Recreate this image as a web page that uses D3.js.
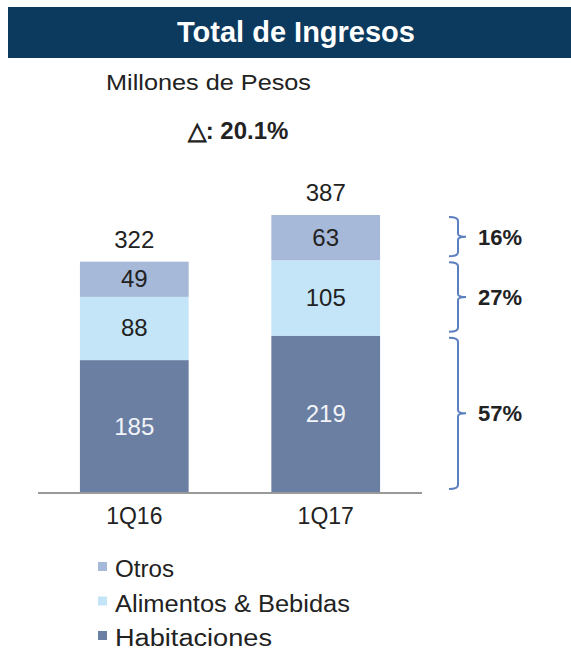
<!DOCTYPE html>
<html>
<head>
<meta charset="utf-8">
<script src="https://cdn.jsdelivr.net/npm/d3@7"></script>
<style>
  body { margin: 0; background: #fff; }
  svg { font-family: Arial, "Liberation Sans", sans-serif; }
</style>
</head>
<body>
<div class="chart"></div>
<script>
// data
const periods = ["1Q16", "1Q17"];
const seriesNames = ["Habitaciones", "Alimentos & Bebidas", "Otros"];
const habitaciones = [185, 219];
const alimentos = [88, 105];
const otros = [49, 63];
const totals = [322, 387];
const shares = ["57%", "27%", "16%"]; // share of 1Q17
const colors = ["#6b7fa3", "#c4e5f8", "#a6b9d8"];

const width = 571, height = 650;
const svg = d3.select(".chart").append("svg")
  .attr("width", width).attr("height", height);

// header
svg.append("rect")
  .attr("x", 8).attr("y", 7).attr("width", 563).attr("height", 51)
  .attr("fill", "#0b3a5e");
svg.append("text")
  .attr("x", 296).attr("y", 42)
  .attr("text-anchor", "middle")
  .attr("fill", "#fff")
  .attr("font-size", 29).attr("font-weight", "bold")
  .text("Total de Ingresos");

svg.append("text")
  .attr("x", 106).attr("y", 90)
  .attr("font-size", 22).attr("fill", "#222")
  .attr("textLength", 205).attr("lengthAdjust", "spacingAndGlyphs")
  .text("Millones de Pesos");
svg.append("text")
  .attr("x", 238).attr("y", 139)
  .attr("text-anchor", "middle")
  .attr("font-size", 24).attr("font-weight", "bold").attr("fill", "#222")
  .text("\u25B3: 20.1%");

// scales
const x = d3.scaleBand().domain(periods).range([38, 422])
  .paddingInner(0.432).paddingOuter(0.219);
const y = d3.scaleLinear().domain([0, 387]).range([493, 215]);

const rows = periods.map((p, i) => ({
  period: p,
  "Habitaciones": habitaciones[i],
  "Alimentos & Bebidas": alimentos[i],
  "Otros": otros[i]
}));
const stacked = d3.stack().keys(seriesNames)(rows);

const layers = svg.selectAll("g.layer").data(stacked).enter()
  .append("g").attr("class", "layer")
  .attr("fill", (d, i) => colors[i]);

layers.selectAll("rect").data(d => d).enter()
  .append("rect")
  .attr("x", d => x(d.data.period))
  .attr("y", d => y(d[1]))
  .attr("width", x.bandwidth())
  .attr("height", d => y(d[0]) - y(d[1]));

// segment labels
stacked.forEach((layer, li) => {
  svg.selectAll(null).data(layer).enter()
    .append("text")
    .attr("x", d => x(d.data.period) + x.bandwidth() / 2)
    .attr("y", d => (y(d[0]) + y(d[1])) / 2 + 8)
    .attr("text-anchor", "middle")
    .attr("font-size", 24)
    .attr("fill", li === 0 ? "#f2f4f8" : "#222")
    .text(d => d[1] - d[0]);
});

// totals
svg.selectAll("text.total").data(periods).enter()
  .append("text").attr("class", "total")
  .attr("x", d => x(d) + x.bandwidth() / 2)
  .attr("y", (d, i) => y(totals[i]) - 14)
  .attr("text-anchor", "middle")
  .attr("font-size", 24).attr("fill", "#222")
  .text((d, i) => totals[i]);

// x axis
const xAxis = svg.append("g").attr("transform", "translate(0,493)")
  .call(d3.axisBottom(x).tickSize(0).tickPadding(15));
xAxis.select(".domain").attr("stroke", "#999").attr("stroke-width", 2)
  .attr("d", "M38,0H422");
xAxis.selectAll("text").attr("font-size", 23).attr("fill", "#222")
  .attr("font-family", "Arial, 'Liberation Sans', sans-serif");

// braces for 1Q17 shares
const last = periods.length - 1;
const bx = 449, bw = 9, tick = 8;
stacked.forEach((layer, li) => {
  const d = layer[last];
  const top = y(d[1]) + 2, bot = y(d[0]) - 4;
  const mid = (top + bot) / 2;
  svg.append("path")
    .attr("d", `M${bx},${top}Q${bx + bw},${top} ${bx + bw},${top + 4}` +
      `V${mid - 3}Q${bx + bw},${mid} ${bx + bw + tick},${mid}` +
      `Q${bx + bw},${mid} ${bx + bw},${mid + 3}` +
      `V${bot - 4}Q${bx + bw},${bot} ${bx},${bot}`)
    .attr("fill", "none").attr("stroke", "#5b7fbf").attr("stroke-width", 2);
  svg.append("text")
    .attr("x", 478).attr("y", mid + 8)
    .attr("font-size", 22).attr("font-weight", "bold").attr("fill", "#222")
    .text(shares[li]);
});

// legend
const legendOrder = [2, 1, 0];
const legendWidths = [157, 235, 59];
const legend = svg.selectAll("g.legend").data(legendOrder).enter()
  .append("g").attr("class", "legend")
  .attr("transform", (d, i) => `translate(98,${569 + i * 34.5})`);
legend.append("rect")
  .attr("x", 0).attr("y", -7).attr("width", 9).attr("height", 9)
  .attr("fill", d => colors[d]);
legend.append("text")
  .attr("x", 17).attr("y", 8)
  .attr("font-size", 23).attr("fill", "#222")
  .attr("textLength", d => legendWidths[d])
  .attr("lengthAdjust", "spacingAndGlyphs")
  .text(d => seriesNames[d]);
</script>
</body>
</html>
